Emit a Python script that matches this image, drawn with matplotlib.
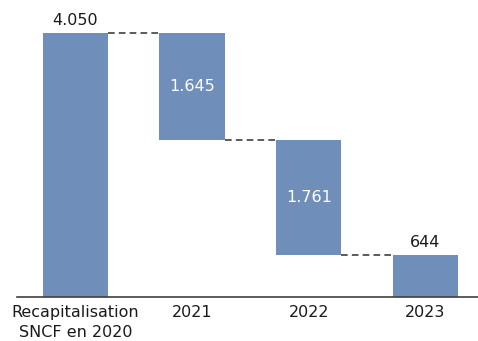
import numpy as np
import matplotlib.pyplot as plt

categories = ["Recapitalisation\nSNCF en 2020", "2021", "2022", "2023"]
changes = [4050, -1645, -1761]
total = 644
labels = ["4.050", "1.645", "1.761", "644"]

bar_color = "#6F8EBA"

# waterfall bottoms / heights
bottoms = []
heights = []
level = 0
for c in changes:
    if c >= 0:
        bottoms.append(level)
        heights.append(c)
    else:
        bottoms.append(level + c)
        heights.append(-c)
    level += c
bottoms.append(0)
heights.append(total)

x = np.arange(len(categories))
width = 0.56

fig = plt.figure(figsize=(4.78, 3.41), dpi=100)
ax = fig.add_axes([17 / 478, 0.129, 461 / 478, 0.871])
ax.bar(x, heights, width, bottom=bottoms, color=bar_color, edgecolor="none")

# dashed connectors between bars
tops = [bottoms[0] + heights[0], bottoms[1], bottoms[2], heights[3]]
for i in range(len(x) - 1):
    ax.plot([x[i] + width / 2, x[i + 1] - width / 2], [tops[i], tops[i]],
            color="#404040", lw=1.2, ls=(0, (4, 2.5)))

fs = 11.5
ax.text(x[0], heights[0] + 70, labels[0], ha="center", va="bottom", fontsize=fs, color="#1a1a1a")
ax.text(x[1], bottoms[1] + heights[1] / 2, labels[1], ha="center", va="center", fontsize=fs, color="white")
ax.text(x[2], bottoms[2] + heights[2] / 2, labels[2], ha="center", va="center", fontsize=fs, color="white")
ax.text(x[3], heights[3] + 70, labels[3], ha="center", va="bottom", fontsize=fs, color="#1a1a1a")

ax.set_xlim(-0.5, 3.45)
ax.set_ylim(0, 4555)
ax.set_xticks(x)
ax.set_xticklabels(categories, fontsize=fs, color="#1a1a1a", linespacing=1.35)
ax.tick_params(axis="x", length=0, pad=6)
ax.set_yticks([])
for s in ["top", "right", "left"]:
    ax.spines[s].set_visible(False)
ax.spines["bottom"].set_color("#404040")
ax.spines["bottom"].set_linewidth(1.2)

plt.savefig("out.png", dpi=100)
